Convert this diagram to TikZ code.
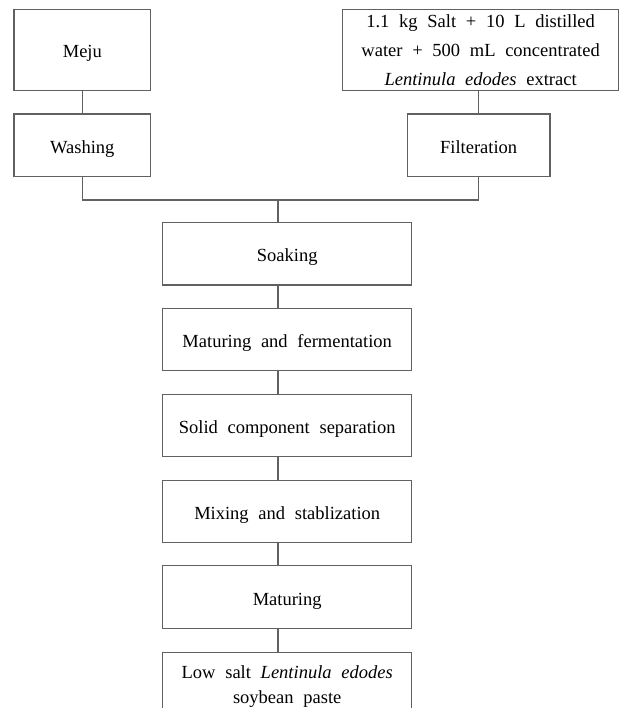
\documentclass[tikz,border=0pt]{standalone}
\usepackage{fontspec}
\setmainfont{Liberation Serif}[WordSpace={2.1}]
\begin{document}
\begin{tikzpicture}[x=1pt,y=-1pt,
  box/.style={draw=black!62, line width=1.1pt, rectangle, inner sep=0pt, font=\fontsize{18.5}{29}\selectfont, align=center},
  one/.style={text height=17pt, text depth=1pt},
  conn/.style={draw=black!62, line width=1.1pt}]
\useasboundingbox (0,0) rectangle (621,708);
\clip (0,0) rectangle (621,708);
% top row
\node[box, one, minimum width=136.7pt, minimum height=81.4pt] (meju) at (82.35,50) {Meju};
\node[box, one, minimum width=136.7pt, minimum height=62.7pt] (wash) at (82.35,145.35) {Washing};
\node[box, minimum width=275.8pt, minimum height=81.4pt] (salt) at (480.6,50) {1.1 kg Salt + 10 L distilled\\water + 500 mL concentrated\\\textit{Lentinula edodes} extract};
\node[box, one, minimum width=142.7pt, minimum height=62.7pt] (filt) at (478.65,145.35) {Filteration};
% main column
\node[box, one, minimum width=249pt, minimum height=62.3pt] (soak) at (287.2,253.85) {Soaking};
\node[box, one, minimum width=249pt, minimum height=62.3pt] (mf) at (287.2,339.65) {Maturing and fermentation};
\node[box, one, minimum width=249pt, minimum height=62.3pt] (scs) at (287.2,425.45) {Solid component separation};
\node[box, one, minimum width=249pt, minimum height=62.3pt] (mix) at (287.2,511.25) {Mixing and stablization};
\node[box, one, minimum width=249pt, minimum height=62.3pt] (mat) at (287.2,597.05) {Maturing};
\node[box, minimum width=249pt, minimum height=80pt, anchor=north] (low) at (287.2,651.7) {};
\node[font=\fontsize{18.5}{25}\selectfont, align=center, anchor=north, inner sep=0pt] (lowtxt) at (287.2,665) {Low salt \textit{Lentinula edodes}\\soybean paste};
% connectors
\coordinate (jl) at (82.35,200);
\coordinate (jr) at (478.65,200);
\coordinate (jm) at (278,200);
\draw[conn] (meju.south) -- (wash.north);
\draw[conn] (filt.north) -- (filt.north |- salt.south);
\draw[conn] (wash.south) -- (jl) -- (jr) -- (filt.south);
\draw[conn] (jm) -- (jm |- soak.north);
\draw[conn] (jm |- soak.south) -- (jm |- mf.north);
\draw[conn] (jm |- mf.south) -- (jm |- scs.north);
\draw[conn] (jm |- scs.south) -- (jm |- mix.north);
\draw[conn] (jm |- mix.south) -- (jm |- mat.north);
\draw[conn] (jm |- mat.south) -- (jm |- low.north);
\end{tikzpicture}
\end{document}
